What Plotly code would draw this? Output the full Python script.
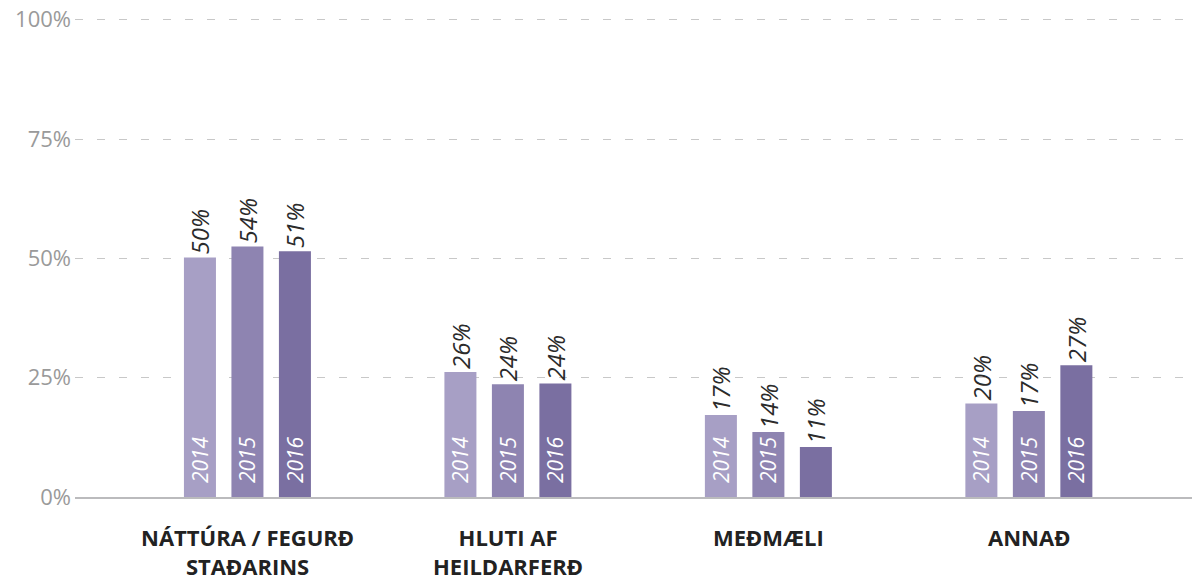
import plotly.graph_objects as go

categories = ["NÁTTÚRA / FEGURÐ<br>STAÐARINS", "HLUTI AF<br>HEILDARFERÐ", "MEÐMÆLI", "ANNAÐ"]
years = ["2014", "2015", "2016"]
values_2014 = [50.2, 26.2, 17.2, 19.6]
values_2015 = [52.5, 23.6, 13.6, 18.0]
values_2016 = [51.5, 23.8, 10.5, 27.6]
labels_2014 = ["50%", "26%", "17%", "20%"]
labels_2015 = ["54%", "24%", "14%", "17%"]
labels_2016 = ["51%", "24%", "11%", "27%"]
y_ticks = [0, 25, 50, 75, 100]
y_tick_text = ["0%", "25%", "50%", "75%", "100%"]

series = [
    (years[0], values_2014, labels_2014, "#a79fc5"),
    (years[1], values_2015, labels_2015, "#8e84b1"),
    (years[2], values_2016, labels_2016, "#7a6fa1"),
]

FONT = "Open Sans, Lato, sans-serif"
PAD = "\u00a0\u00a0"

fig = go.Figure()
for year, vals, labs, color in series:
    year_text = [PAD + year if v >= 12 else "" for v in vals]
    fig.add_trace(go.Bar(
        x=categories, y=vals, name=year, offsetgroup=year,
        marker=dict(color=color, line=dict(width=0)),
        text=year_text, textposition="inside", insidetextanchor="start",
        textangle=-90, constraintext="none",
        insidetextfont=dict(family=FONT, size=21, color="white", style="italic"),
        hoverinfo="skip", showlegend=False,
    ))
    fig.add_trace(go.Bar(
        x=categories, y=vals, name=year + " label", offsetgroup=year,
        marker=dict(color="rgba(0,0,0,0)", line=dict(width=0)),
        text=labs, textposition="outside", textangle=-90, constraintext="none",
        outsidetextfont=dict(family=FONT, size=24, color="#2b2b2b", style="italic"),
        cliponaxis=False, hoverinfo="skip", showlegend=False,
    ))

# category labels under the axis
for cat in categories:
    fig.add_annotation(
        x=cat, xref="x", y=0, yref="paper",
        text=cat, showarrow=False,
        xanchor="center", yanchor="top", yshift=-23,
        font=dict(family=FONT, size=22, color="#222222", weight="bold"),
    )

fig.update_layout(
    width=1192, height=577,
    margin=dict(l=67, r=0, t=7, b=88, autoexpand=False),
    paper_bgcolor="white", plot_bgcolor="white",
    barmode="group", bargap=0.453, bargroupgap=0.326,
    font=dict(family=FONT),
)
fig.update_xaxes(
    type="category", range=[-0.662, 3.657],
    showgrid=False, showline=True, linecolor="#bbbbbd", linewidth=2,
    ticks="", showticklabels=False, zeroline=False, automargin=False,
)
fig.update_yaxes(
    range=[0, 101], tickvals=y_ticks, ticktext=y_tick_text,
    showgrid=True, gridcolor="#c8c8c8", gridwidth=1, griddash="8px,14px",
    zeroline=False, showline=False, ticks="",
    tickfont=dict(family=FONT, size=22, color="#9a9a9a"),
    ticklabelstandoff=3, automargin=False, ticklabeloverflow="allow",
)

fig.write_html("out.html")
